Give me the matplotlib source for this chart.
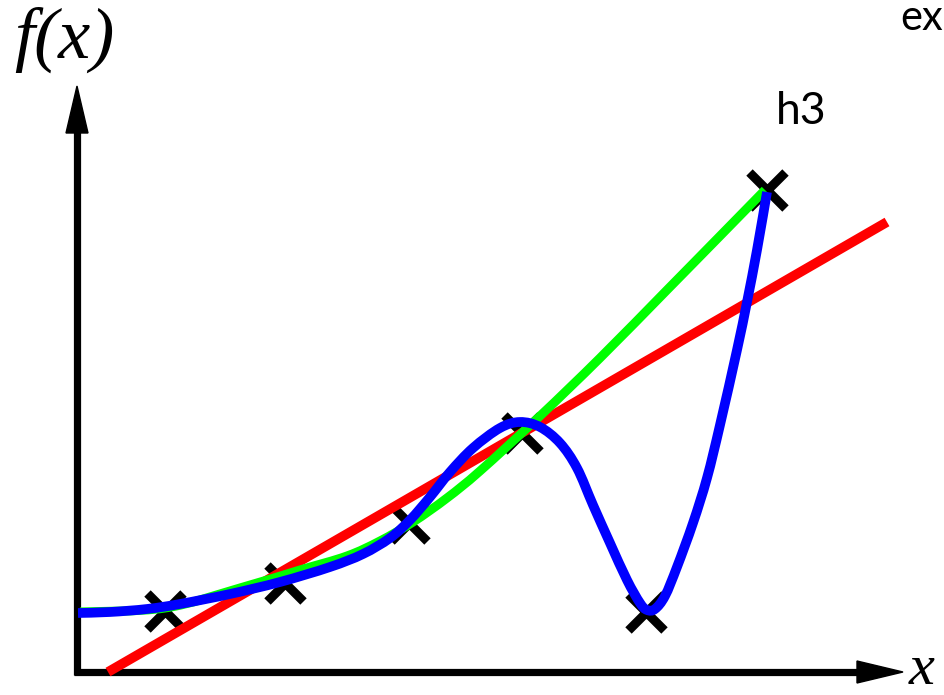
import numpy as np
import matplotlib.pyplot as plt
from matplotlib.patches import Polygon, PathPatch
from matplotlib.path import Path

# sample points (pixel space, y grows downward)
pts_x = [165, 285, 409, 522, 646, 767]
pts_y = [611, 583, 523, 433, 612, 190]

# h1: straight line fit
h1_x = [108, 887]
h1_y = [672, 222]

# h2: smooth low-order fit
h2_x = [80, 165, 240, 300, 347, 380, 413, 447, 480, 540, 600, 667, 720, 765]
h2_y = [612, 608, 588, 570, 556, 541, 522, 498, 471, 416, 358, 290, 236, 190]

# h3: high-order fit through every point
h3_x = [78, 110, 147, 180, 230, 280, 330, 363, 390, 410, 430, 450, 473, 500,
        520, 540, 560, 577, 593, 610, 627, 640, 647, 655, 665, 677, 693, 707,
        720, 737, 747, 757, 767]
h3_y = [613, 612, 609, 604, 594, 582, 567, 554, 538, 520, 497, 472, 448, 428,
        422, 427, 443, 468, 505, 543, 580, 603, 610, 609, 596, 567, 523, 478,
        425, 350, 302, 250, 192]


def smooth_path(xs, ys):
    # Catmull-Rom segments drawn as cubic Bezier curves through the points
    p = np.column_stack([xs, ys]).astype(float)
    p = np.vstack([p[0], p, p[-1]])
    verts = [p[1]]
    codes = [Path.MOVETO]
    for i in range(1, len(p) - 2):
        c1 = p[i] + (p[i + 1] - p[i - 1]) / 6
        c2 = p[i + 1] - (p[i + 2] - p[i]) / 6
        verts += [c1, c2, p[i + 1]]
        codes += [Path.CURVE4] * 3
    return Path(verts, codes)


W, H = 945, 695
fig = plt.figure(figsize=(W / 100, H / 100), dpi=100)
ax = fig.add_axes([0, 0, 1, 1])
ax.set_xlim(0, W)
ax.set_ylim(H, 0)
ax.axis('off')

# axes with arrow heads
ox, oy = 77, 672
ax.plot([ox, ox], [oy + 3, 130], color='black', lw=5.2, solid_capstyle='butt')
ax.plot([ox - 3, 860], [oy, oy], color='black', lw=5.2, solid_capstyle='butt')
ax.add_patch(Polygon([[ox - 11, 133], [ox, 86], [ox + 11, 133]], closed=True,
                     color='black'))
ax.add_patch(Polygon([[857, oy - 11], [903, oy], [857, oy + 11]], closed=True,
                     color='black'))

ax.plot(pts_x, pts_y, linestyle='none', marker='x', markersize=26,
        markeredgewidth=6.5, color='black', zorder=2)
ax.plot(h1_x, h1_y, color='#ff0000', lw=7, solid_capstyle='butt', zorder=3)
ax.add_patch(PathPatch(smooth_path(h2_x, h2_y), facecolor='none',
                       edgecolor='#00ff00', lw=6.5, capstyle='butt', zorder=4))
ax.add_patch(PathPatch(smooth_path(h3_x, h3_y), facecolor='none',
                       edgecolor='#0000ff', lw=7, capstyle='butt', zorder=5))

ax.text(14, 58, 'f(x)', family='Liberation Serif', style='italic',
        fontsize=52, va='baseline', ha='left')
ax.text(909, 684, 'x', family='Liberation Serif', style='italic',
        fontsize=42, va='baseline', ha='left')
ax.text(776, 124, 'h3', family='Lato', fontsize=32, va='baseline', ha='left')
ax.text(900, 30, 'ex', family='Lato', fontsize=30, va='baseline', ha='left')

fig.savefig('out.png', dpi=100)
